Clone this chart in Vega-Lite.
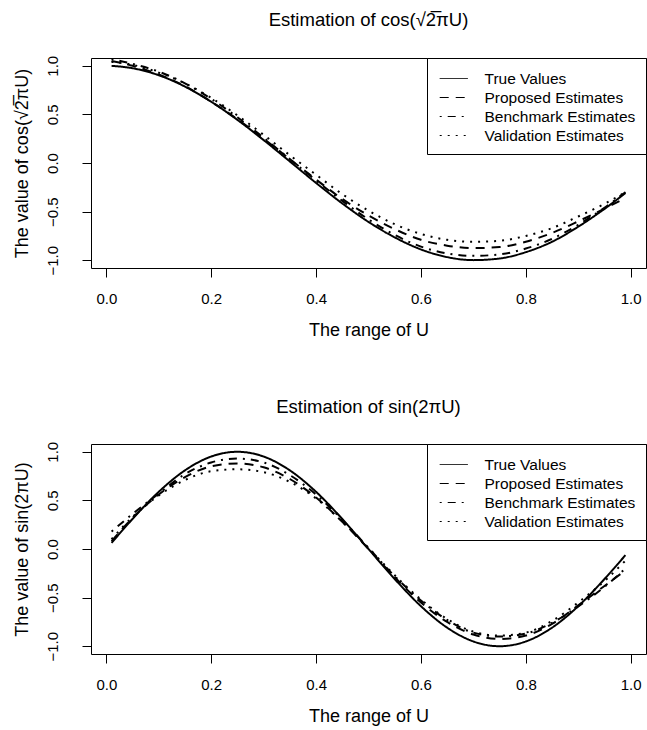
{
  "$schema": "https://vega.github.io/schema/vega-lite/v6.json",
  "autosize": {"type": "pad"},
  "padding": {"left": 12, "top": 10, "right": 0, "bottom": 5},
  "background": "white",
  "config": {
    "font": "Liberation Sans",
    "view": {"stroke": "black", "strokeWidth": 1},
    "axis": {"domain": false, "grid": false, "tickColor": "black", "tickSize": 9, "tickWidth": 1, "labelFontSize": 15, "labelColor": "black", "titleFontSize": 18, "titleFontWeight": "normal", "titleColor": "black"},
    "title": {"fontSize": 18.5, "fontWeight": "normal", "color": "black", "anchor": "middle", "frame": "group", "baseline": "alphabetic", "offset": 25},
    "legend": {"orient": "top-right", "offset": 0, "strokeColor": "black", "fillColor": "white", "padding": 10, "symbolOffset": 6.25, "symbolType": "M-1.44,0H1.44", "symbolSize": 380, "symbolStrokeWidth": 1, "symbolStrokeColor": "black", "symbolFillColor": "transparent", "labelFontSize": 15.5, "labelOffset": 20.25, "rowPadding": 0, "labelColor": "black", "cornerRadius": 0}
  },
  "datasets": {
    "cosdata": [
      {"u": 0.01, "series": "True Values", "value": 0.999},
      {"u": 0.05, "series": "True Values", "value": 0.975},
      {"u": 0.10, "series": "True Values", "value": 0.903},
      {"u": 0.15, "series": "True Values", "value": 0.786},
      {"u": 0.20, "series": "True Values", "value": 0.630},
      {"u": 0.25, "series": "True Values", "value": 0.444},
      {"u": 0.30, "series": "True Values", "value": 0.236},
      {"u": 0.35, "series": "True Values", "value": 0.016},
      {"u": 0.40, "series": "True Values", "value": -0.205},
      {"u": 0.45, "series": "True Values", "value": -0.416},
      {"u": 0.50, "series": "True Values", "value": -0.606},
      {"u": 0.55, "series": "True Values", "value": -0.765},
      {"u": 0.60, "series": "True Values", "value": -0.889},
      {"u": 0.65, "series": "True Values", "value": -0.968},
      {"u": 0.70, "series": "True Values", "value": -0.999},
      {"u": 0.75, "series": "True Values", "value": -0.982},
      {"u": 0.80, "series": "True Values", "value": -0.917},
      {"u": 0.85, "series": "True Values", "value": -0.810},
      {"u": 0.90, "series": "True Values", "value": -0.655},
      {"u": 0.95, "series": "True Values", "value": -0.472},
      {"u": 0.99, "series": "True Values", "value": -0.309},
      {"u": 0.01, "series": "Proposed Estimates", "value": 1.05},
      {"u": 0.05, "series": "Proposed Estimates", "value": 1.00},
      {"u": 0.10, "series": "Proposed Estimates", "value": 0.91},
      {"u": 0.15, "series": "Proposed Estimates", "value": 0.79},
      {"u": 0.20, "series": "Proposed Estimates", "value": 0.63},
      {"u": 0.25, "series": "Proposed Estimates", "value": 0.45},
      {"u": 0.30, "series": "Proposed Estimates", "value": 0.25},
      {"u": 0.35, "series": "Proposed Estimates", "value": 0.04},
      {"u": 0.40, "series": "Proposed Estimates", "value": -0.17},
      {"u": 0.45, "series": "Proposed Estimates", "value": -0.37},
      {"u": 0.50, "series": "Proposed Estimates", "value": -0.54},
      {"u": 0.55, "series": "Proposed Estimates", "value": -0.68},
      {"u": 0.60, "series": "Proposed Estimates", "value": -0.79},
      {"u": 0.65, "series": "Proposed Estimates", "value": -0.85},
      {"u": 0.70, "series": "Proposed Estimates", "value": -0.875},
      {"u": 0.75, "series": "Proposed Estimates", "value": -0.865},
      {"u": 0.80, "series": "Proposed Estimates", "value": -0.81},
      {"u": 0.85, "series": "Proposed Estimates", "value": -0.72},
      {"u": 0.90, "series": "Proposed Estimates", "value": -0.60},
      {"u": 0.95, "series": "Proposed Estimates", "value": -0.47},
      {"u": 0.99, "series": "Proposed Estimates", "value": -0.36},
      {"u": 0.01, "series": "Benchmark Estimates", "value": 1.07},
      {"u": 0.05, "series": "Benchmark Estimates", "value": 1.02},
      {"u": 0.10, "series": "Benchmark Estimates", "value": 0.94},
      {"u": 0.15, "series": "Benchmark Estimates", "value": 0.82},
      {"u": 0.20, "series": "Benchmark Estimates", "value": 0.66},
      {"u": 0.25, "series": "Benchmark Estimates", "value": 0.47},
      {"u": 0.30, "series": "Benchmark Estimates", "value": 0.26},
      {"u": 0.35, "series": "Benchmark Estimates", "value": 0.04},
      {"u": 0.40, "series": "Benchmark Estimates", "value": -0.18},
      {"u": 0.45, "series": "Benchmark Estimates", "value": -0.39},
      {"u": 0.50, "series": "Benchmark Estimates", "value": -0.58},
      {"u": 0.55, "series": "Benchmark Estimates", "value": -0.74},
      {"u": 0.60, "series": "Benchmark Estimates", "value": -0.86},
      {"u": 0.65, "series": "Benchmark Estimates", "value": -0.93},
      {"u": 0.70, "series": "Benchmark Estimates", "value": -0.955},
      {"u": 0.75, "series": "Benchmark Estimates", "value": -0.94},
      {"u": 0.80, "series": "Benchmark Estimates", "value": -0.88},
      {"u": 0.85, "series": "Benchmark Estimates", "value": -0.78},
      {"u": 0.90, "series": "Benchmark Estimates", "value": -0.635},
      {"u": 0.95, "series": "Benchmark Estimates", "value": -0.46},
      {"u": 0.99, "series": "Benchmark Estimates", "value": -0.30},
      {"u": 0.01, "series": "Validation Estimates", "value": 1.04},
      {"u": 0.05, "series": "Validation Estimates", "value": 1.01},
      {"u": 0.10, "series": "Validation Estimates", "value": 0.93},
      {"u": 0.15, "series": "Validation Estimates", "value": 0.82},
      {"u": 0.20, "series": "Validation Estimates", "value": 0.67},
      {"u": 0.25, "series": "Validation Estimates", "value": 0.49},
      {"u": 0.30, "series": "Validation Estimates", "value": 0.29},
      {"u": 0.35, "series": "Validation Estimates", "value": 0.08},
      {"u": 0.40, "series": "Validation Estimates", "value": -0.12},
      {"u": 0.45, "series": "Validation Estimates", "value": -0.32},
      {"u": 0.50, "series": "Validation Estimates", "value": -0.49},
      {"u": 0.55, "series": "Validation Estimates", "value": -0.63},
      {"u": 0.60, "series": "Validation Estimates", "value": -0.73},
      {"u": 0.65, "series": "Validation Estimates", "value": -0.79},
      {"u": 0.70, "series": "Validation Estimates", "value": -0.81},
      {"u": 0.75, "series": "Validation Estimates", "value": -0.80},
      {"u": 0.80, "series": "Validation Estimates", "value": -0.75},
      {"u": 0.85, "series": "Validation Estimates", "value": -0.67},
      {"u": 0.90, "series": "Validation Estimates", "value": -0.55},
      {"u": 0.95, "series": "Validation Estimates", "value": -0.42},
      {"u": 0.99, "series": "Validation Estimates", "value": -0.30}
    ],
    "sindata": [
      {"u": 0.01, "series": "True Values", "value": 0.063},
      {"u": 0.05, "series": "True Values", "value": 0.309},
      {"u": 0.10, "series": "True Values", "value": 0.588},
      {"u": 0.15, "series": "True Values", "value": 0.809},
      {"u": 0.20, "series": "True Values", "value": 0.951},
      {"u": 0.25, "series": "True Values", "value": 1.0},
      {"u": 0.30, "series": "True Values", "value": 0.951},
      {"u": 0.35, "series": "True Values", "value": 0.809},
      {"u": 0.40, "series": "True Values", "value": 0.588},
      {"u": 0.45, "series": "True Values", "value": 0.309},
      {"u": 0.50, "series": "True Values", "value": 0.0},
      {"u": 0.55, "series": "True Values", "value": -0.309},
      {"u": 0.60, "series": "True Values", "value": -0.588},
      {"u": 0.65, "series": "True Values", "value": -0.809},
      {"u": 0.70, "series": "True Values", "value": -0.951},
      {"u": 0.75, "series": "True Values", "value": -1.0},
      {"u": 0.80, "series": "True Values", "value": -0.951},
      {"u": 0.85, "series": "True Values", "value": -0.809},
      {"u": 0.90, "series": "True Values", "value": -0.588},
      {"u": 0.95, "series": "True Values", "value": -0.309},
      {"u": 0.99, "series": "True Values", "value": -0.063},
      {"u": 0.01, "series": "Proposed Estimates", "value": 0.08},
      {"u": 0.05, "series": "Proposed Estimates", "value": 0.32},
      {"u": 0.10, "series": "Proposed Estimates", "value": 0.56},
      {"u": 0.15, "series": "Proposed Estimates", "value": 0.74},
      {"u": 0.20, "series": "Proposed Estimates", "value": 0.85},
      {"u": 0.25, "series": "Proposed Estimates", "value": 0.88},
      {"u": 0.30, "series": "Proposed Estimates", "value": 0.84},
      {"u": 0.35, "series": "Proposed Estimates", "value": 0.72},
      {"u": 0.40, "series": "Proposed Estimates", "value": 0.53},
      {"u": 0.45, "series": "Proposed Estimates", "value": 0.28},
      {"u": 0.50, "series": "Proposed Estimates", "value": 0.0},
      {"u": 0.55, "series": "Proposed Estimates", "value": -0.29},
      {"u": 0.60, "series": "Proposed Estimates", "value": -0.55},
      {"u": 0.65, "series": "Proposed Estimates", "value": -0.75},
      {"u": 0.70, "series": "Proposed Estimates", "value": -0.88},
      {"u": 0.75, "series": "Proposed Estimates", "value": -0.925},
      {"u": 0.80, "series": "Proposed Estimates", "value": -0.89},
      {"u": 0.85, "series": "Proposed Estimates", "value": -0.77},
      {"u": 0.90, "series": "Proposed Estimates", "value": -0.58},
      {"u": 0.95, "series": "Proposed Estimates", "value": -0.38},
      {"u": 0.99, "series": "Proposed Estimates", "value": -0.22},
      {"u": 0.01, "series": "Benchmark Estimates", "value": 0.18},
      {"u": 0.05, "series": "Benchmark Estimates", "value": 0.36},
      {"u": 0.10, "series": "Benchmark Estimates", "value": 0.57},
      {"u": 0.15, "series": "Benchmark Estimates", "value": 0.77},
      {"u": 0.20, "series": "Benchmark Estimates", "value": 0.89},
      {"u": 0.25, "series": "Benchmark Estimates", "value": 0.93},
      {"u": 0.30, "series": "Benchmark Estimates", "value": 0.89},
      {"u": 0.35, "series": "Benchmark Estimates", "value": 0.76},
      {"u": 0.40, "series": "Benchmark Estimates", "value": 0.56},
      {"u": 0.45, "series": "Benchmark Estimates", "value": 0.30},
      {"u": 0.50, "series": "Benchmark Estimates", "value": 0.01},
      {"u": 0.55, "series": "Benchmark Estimates", "value": -0.28},
      {"u": 0.60, "series": "Benchmark Estimates", "value": -0.53},
      {"u": 0.65, "series": "Benchmark Estimates", "value": -0.73},
      {"u": 0.70, "series": "Benchmark Estimates", "value": -0.86},
      {"u": 0.75, "series": "Benchmark Estimates", "value": -0.90},
      {"u": 0.80, "series": "Benchmark Estimates", "value": -0.87},
      {"u": 0.85, "series": "Benchmark Estimates", "value": -0.76},
      {"u": 0.90, "series": "Benchmark Estimates", "value": -0.59},
      {"u": 0.95, "series": "Benchmark Estimates", "value": -0.39},
      {"u": 0.99, "series": "Benchmark Estimates", "value": -0.20},
      {"u": 0.01, "series": "Validation Estimates", "value": 0.10},
      {"u": 0.05, "series": "Validation Estimates", "value": 0.33},
      {"u": 0.10, "series": "Validation Estimates", "value": 0.55},
      {"u": 0.15, "series": "Validation Estimates", "value": 0.71},
      {"u": 0.20, "series": "Validation Estimates", "value": 0.80},
      {"u": 0.25, "series": "Validation Estimates", "value": 0.82},
      {"u": 0.30, "series": "Validation Estimates", "value": 0.79},
      {"u": 0.35, "series": "Validation Estimates", "value": 0.69},
      {"u": 0.40, "series": "Validation Estimates", "value": 0.52},
      {"u": 0.45, "series": "Validation Estimates", "value": 0.28},
      {"u": 0.50, "series": "Validation Estimates", "value": 0.01},
      {"u": 0.55, "series": "Validation Estimates", "value": -0.27},
      {"u": 0.60, "series": "Validation Estimates", "value": -0.52},
      {"u": 0.65, "series": "Validation Estimates", "value": -0.72},
      {"u": 0.70, "series": "Validation Estimates", "value": -0.85},
      {"u": 0.75, "series": "Validation Estimates", "value": -0.89},
      {"u": 0.80, "series": "Validation Estimates", "value": -0.86},
      {"u": 0.85, "series": "Validation Estimates", "value": -0.74},
      {"u": 0.90, "series": "Validation Estimates", "value": -0.55},
      {"u": 0.95, "series": "Validation Estimates", "value": -0.33},
      {"u": 0.99, "series": "Validation Estimates", "value": -0.12}
    ]
  },
  "bounds": "flush",
  "spacing": 176,
  "resolve": {"scale": {"strokeDash": "independent"}, "legend": {"strokeDash": "independent"}},
  "vconcat": [
    {
      "width": 555,
      "height": 210,
      "title": {"text": "Estimation of cos(√2̅πU)"},
      "data": {"name": "cosdata"},
      "mark": {"type": "line", "interpolate": "monotone", "strokeWidth": 2, "color": "black", "strokeCap": "butt"},
      "encoding": {
        "x": {"field": "u", "type": "quantitative", "scale": {"domain": [-0.0292, 1.0292], "nice": false, "zero": false},
              "axis": {"values": [0, 0.2, 0.4, 0.6, 0.8, 1.0], "format": ".1f", "title": "The range of U", "labelPadding": 14, "titlePadding": 15}},
        "y": {"field": "value", "type": "quantitative", "scale": {"domain": [-1.08, 1.08], "nice": false, "zero": false},
              "axis": {"values": [-1, -0.5, 0, 0.5, 1], "format": ".1f", "labelAngle": -90, "labelAlign": "center", "labelBaseline": "alphabetic", "labelPadding": 25, "title": "The value of cos(√2̅πU)", "titlePadding": 14}},
        "strokeDash": {"field": "series", "type": "nominal",
          "scale": {"domain": ["True Values", "Proposed Estimates", "Benchmark Estimates", "Validation Estimates"], "range": [[1, 0], [9, 7], [2, 6, 8, 6], [2, 6]]},
          "legend": {"title": null, "encode": {"symbols": {"update": {"strokeDash": {"signal": "datum.value == 'Proposed Estimates' ? [3, 3] : datum.value == 'Benchmark Estimates' ? [1, 3, 3, 3] : datum.value == 'Validation Estimates' ? [1, 3] : [1, 0]"}}}}}
        }
      }
    },
    {
      "width": 555,
      "height": 210,
      "title": {"text": "Estimation of sin(2πU)"},
      "data": {"name": "sindata"},
      "mark": {"type": "line", "interpolate": "monotone", "strokeWidth": 2, "color": "black", "strokeCap": "butt"},
      "encoding": {
        "x": {"field": "u", "type": "quantitative", "scale": {"domain": [-0.0292, 1.0292], "nice": false, "zero": false},
              "axis": {"values": [0, 0.2, 0.4, 0.6, 0.8, 1.0], "format": ".1f", "title": "The range of U", "labelPadding": 14, "titlePadding": 15}},
        "y": {"field": "value", "type": "quantitative", "scale": {"domain": [-1.08, 1.08], "nice": false, "zero": false},
              "axis": {"values": [-1, -0.5, 0, 0.5, 1], "format": ".1f", "labelAngle": -90, "labelAlign": "center", "labelBaseline": "alphabetic", "labelPadding": 25, "title": "The value of sin(2πU)", "titlePadding": 14}},
        "strokeDash": {"field": "series", "type": "nominal",
          "scale": {"domain": ["True Values", "Proposed Estimates", "Benchmark Estimates", "Validation Estimates"], "range": [[1, 0], [9, 7], [2, 6, 8, 6], [2, 6]]},
          "legend": {"title": null, "encode": {"symbols": {"update": {"strokeDash": {"signal": "datum.value == 'Proposed Estimates' ? [3, 3] : datum.value == 'Benchmark Estimates' ? [1, 3, 3, 3] : datum.value == 'Validation Estimates' ? [1, 3] : [1, 0]"}}}}}
        }
      }
    }
  ]
}
